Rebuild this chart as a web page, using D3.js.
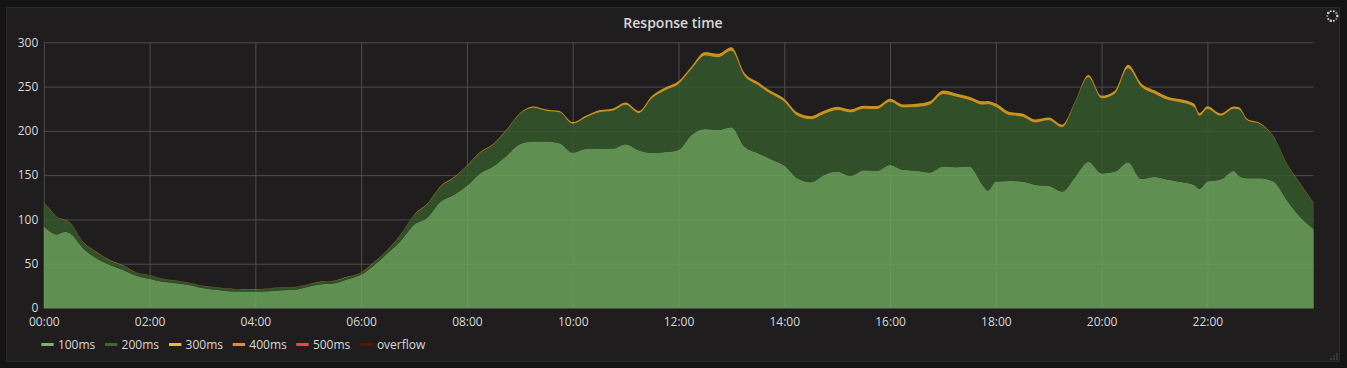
<!DOCTYPE html>
<html><head><meta charset="utf-8">
<script src="https://cdn.jsdelivr.net/npm/d3@7"></script>
<style>
html,body{margin:0;padding:0;background:#141414;overflow:hidden}
svg{display:block;font-family:"Open Sans",sans-serif}
</style></head><body><svg id="c" width="1347" height="368"></svg>
<script>
const title = "Response time";
const hours = [0,0.1,0.25,0.4,0.5,0.75,1,1.25,1.5,1.75,2,2.25,2.5,2.75,3,3.25,3.5,3.75,4,4.25,4.5,4.75,5,5.25,5.5,5.75,6,6.25,6.5,6.75,7,7.25,7.5,7.75,8,8.25,8.5,8.75,9,9.25,9.5,9.75,10,10.25,10.5,10.75,11,11.25,11.5,11.75,12,12.25,12.5,12.75,13,13.25,13.5,13.75,14,14.25,14.5,14.75,15,15.25,15.5,15.75,16,16.25,16.5,16.75,17,17.25,17.5,17.75,17.85,18,18.25,18.5,18.75,19,19.25,19.5,19.75,20,20.25,20.5,20.75,21,21.25,21.5,21.75,21.85,22,22.25,22.5,22.6,22.75,23,23.25,23.5,23.75,24.01];
const s100 = [92,87,83,86,84,67,56,48.6,43,36.5,33,29.5,28,26,22.5,20.7,19,18.5,18.5,19,20,20.7,24,26.7,28,32.4,37.7,48.6,61.8,76,94,102,120,127.7,138,152,160,172,185,188,188,186,175.5,179.6,179.6,180,185,178,175,176,178.5,195.5,202,201,204,182,175,168,161,146.5,142,150,154,149,155.5,155,161.6,156,155,153,159.7,159,159.7,139,132.6,142.7,143.5,142.7,139,138,131.4,148,165,152,154,164.6,145.8,148,145,142.4,139,134.5,142.7,145,154.8,149,146.5,146.5,142.7,122,103,89];
const s200 = [26.7,25.2,19.2,13.1,11.7,6.7,6.7,5.1,4.7,3.2,3.7,3.2,2.7,2.2,2.2,2.4,2.7,1.9,2.2,2.7,3.1,2.7,2.4,2.7,2.7,2.7,2,3.1,3.4,6.7,10.7,15.2,16.7,19,22.2,23.2,24.7,28.7,34,38,34.7,35,32.5,35.4,41.4,42.7,44.5,42,62,70,74.5,74.5,83,82,86.5,80,76.7,73.5,72,70.5,71,69,69.5,71.8,69.5,69.6,71.4,70.5,72,76.5,81.8,79.5,75.1,90.5,97.4,84.3,74.3,73.3,70.5,74,72.6,84,95.4,84.7,88,106,104,94,90,89.6,88,82.5,82,72,70.2,75,65.5,61,50.4,41,37.7,29];
const s300 = [0.4,0.4,0.4,0.4,0.4,0.4,0.4,0.4,0.4,0.4,0.4,0.4,0.4,0.4,0.4,0.4,0.4,0.4,0.4,0.4,0.4,0.4,0.4,0.4,0.4,0.4,0.4,0.4,0.5,0.6,0.7,0.7,0.8,0.8,0.8,0.8,0.8,0.8,1,1.5,1.5,1.5,2,2.2,2.4,2.4,2.4,2.4,2.6,3,3,3,4,4,4,3.4,3.4,3.4,3.4,3.6,3.6,3.6,3.6,3.4,3.4,3.4,3.4,3.4,3.6,3.8,4,3.8,3.8,3.8,3.8,3.8,3.8,3.6,3.4,3,3,1.2,2.6,3,3.4,4,3.8,3.8,3.6,3.6,3.6,3,3,2.6,2.6,2.6,1.8,1.2,0.7,0.5,0.5,0.5];
const s400 = [0.1,0.1,0.1,0.1,0.1,0.1,0.1,0.1,0.1,0.1,0,0,0,0,0,0,0,0,0,0,0,0,0,0,0,0,0,0,0,0,0,0,0,0,0,0,0,0,0,0,0,0,0,0,0,0,0,0,0,0,0,0,0,0,0,0,0,0,0,0,0,0,0,0,0,0,0,0,0,0,0,0,0,0,0,0,0,0,0,0,0,0,0,0,0,0,0,0,0,0,0,0,0,0,0,0,0,0,0,0,0,0];
const s500 = [0,0,0,0,0,0,0,0,0,0,0,0,0,0,0,0,0,0,0,0,0,0,0,0,0,0,0,0,0,0,0,0,0,0,0,0,0,0,0,0,0,0,0,0,0,0,0,0,0,0,0,0,0,0,0,0,0,0,0,0,0,0,0,0,0,0,0,0,0,0,0,0,0,0,0,0,0,0,0,0,0,0,0,0,0,0,0,0,0,0,0,0,0,0,0,0,0,0,0,0,0,0];
const overflow = [0,0,0,0,0,0,0,0,0,0,0,0,0,0,0,0,0,0,0,0,0,0,0,0,0,0,0,0,0,0,0,0,0,0,0,0,0,0,0,0,0,0,0,0,0,0,0,0,0,0,0,0,0,0,0,0,0,0,0,0,0,0,0,0,0,0,0,0,0,0,0,0,0,0,0,0,0,0,0,0,0,0,0,0,0,0,0,0,0,0,0,0,0,0,0,0,0,0,0,0,0,0];
const seriesNames = ["100ms","200ms","300ms","400ms","500ms","overflow"];
const seriesColors = ["#7eb26d","#3f6833","#eab839","#ef843c","#e24d42","#58140c"];
const areaColors = ["#6fa85e","#365a2b","#c9921f","#ef843c","#e24d42","#58140c"];
const seriesValues = [s100,s200,s300,s400,s500,overflow];
const xTicks = [0,2,4,6,8,10,12,14,16,18,20,22];
const yTicks = [0,50,100,150,200,250,300];
const legendX = [41.3,105,169,232.7,296.3,360.3];

const svg = d3.select("#c");
const M = {l:44.3,r:1313.7,t:42.3,b:308};
const x = d3.scaleLinear().domain([0,24.01]).range([43.8,M.r]);
const y = d3.scaleLinear().domain([0,300]).range([M.b,M.t]);

svg.append("rect").attr("x",6.5).attr("y",7.5).attr("width",1333).attr("height",354)
  .attr("fill","#1f1d1e").attr("stroke","#292929");
svg.append("text").attr("x",673).attr("y",28).attr("text-anchor","middle")
  .attr("font-size",14).attr("font-weight",600).attr("fill","#d8d9da").text(title);

const gridC = "#4e4d4e";
const gx = svg.append("g").attr("transform",`translate(0,${M.b})`)
 .call(d3.axisBottom(x).tickValues(xTicks).tickSize(-(M.b-M.t)).tickFormat(d=>String(d).padStart(2,"0")+":00"));
const gy = svg.append("g").attr("transform",`translate(${M.l},0)`)
 .call(d3.axisLeft(y).tickValues(yTicks).tickSize(-(M.r-M.l)));
[gx,gy].forEach(g=>{
  g.select(".domain").remove();
  g.selectAll("line").attr("stroke",gridC).attr("stroke-width",1);
  g.selectAll("text").attr("fill","#d8d9da").attr("font-size",12).attr("font-family",'"Open Sans",sans-serif');
});
gx.selectAll("text").attr("y",9.6).attr("dy","0.7em");
gy.selectAll("text").attr("x",-6);

const rows = hours.map((h,i)=>{const r={h};seriesNames.forEach((n,j)=>r[n]=seriesValues[j][i]);return r;});
const stacked = d3.stack().keys(seriesNames)(rows);
const area = d3.area().x(d=>x(d.data.h)).y0(d=>y(d[0])).y1(d=>y(d[1])).curve(d3.curveMonotoneX);
const fills = [0.82,0.82,1,0.7,0.7,0.7];
svg.append("g").selectAll("path").data(stacked).join("path")
  .attr("d",area).attr("fill",(d,i)=>areaColors[i]).attr("fill-opacity",(d,i)=>fills[i]);
const leg = svg.append("g");
seriesNames.forEach((n,i)=>{
  leg.append("rect").attr("x",legendX[i]).attr("y",343).attr("width",12.4).attr("height",3).attr("fill",seriesColors[i]);
  leg.append("text").attr("x",legendX[i]+16.6).attr("y",349).attr("font-size",12).attr("fill","#d8d9da").text(n);
});
const spin = svg.append("g").attr("transform","translate(1332.3,16)");
d3.range(10).forEach(i=>{const a=i/10*2*Math.PI;
  spin.append("circle").attr("cx",5*Math.cos(a)).attr("cy",5*Math.sin(a)).attr("r",i%3==0?1.3:1).attr("fill",i%4==1?"#888":"#d0d0d0");});
[[1330,359],[1333,359],[1336,359],[1333,356.5],[1336,356.5],[1336,354]].forEach(p=>
  svg.append("rect").attr("x",p[0]).attr("y",p[1]-1).attr("width",2).attr("height",2).attr("fill","#3a3a3a"));
</script></body></html>
